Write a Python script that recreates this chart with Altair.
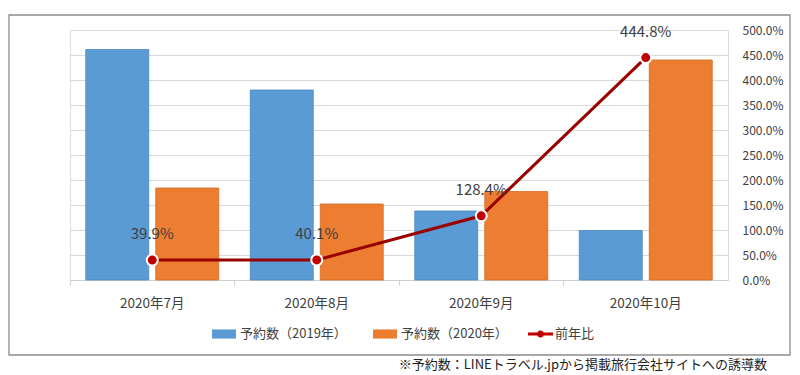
import altair as alt
import pandas as pd

months = ["2020年7月", "2020年8月", "2020年9月", "2020年10月"]
series_names = ["予約数（2019年）", "予約数（2020年）"]
bookings_2019 = [461, 380, 138, 99]
bookings_2020 = [184, 152, 177, 440]
yoy_ratio = [0.399, 0.401, 1.284, 4.448]
line_name = "前年比"
pct_ticks = [0, 0.5, 1.0, 1.5, 2.0, 2.5, 3.0, 3.5, 4.0, 4.5, 5.0]
footnote = ["※予約数：LINEトラベル.jpから掲載旅行会社サイトへの誘導数"]

FONT = "Noto Sans CJK JP"
TXT = "#404040"

bar_rows = []
for i, m in enumerate(months):
    bar_rows.append({"月": m, "系列": series_names[0], "値": bookings_2019[i]})
    bar_rows.append({"月": m, "系列": series_names[1], "値": bookings_2020[i]})
bars_df = pd.DataFrame(bar_rows)
line_df = pd.DataFrame({"月": months, "比": yoy_ratio, "線": [line_name] * len(months)})

x_enc = alt.X(
    "月:N",
    sort=months,
    scale=alt.Scale(paddingInner=0, paddingOuter=0),
    axis=alt.Axis(
        title=None, labelAngle=0, bandPosition=0,
        tickSize=5, tickColor="#d0d0d0", domainColor="#d0d0d0",
        labelPadding=11, labelFontSize=13.5, labelColor=TXT, labelFont=FONT, grid=False,
    ),
)

bars = alt.Chart(bars_df).mark_bar(strokeWidth=0.8).encode(
    x=x_enc,
    xOffset=alt.XOffset("系列:N", sort=series_names,
                        scale=alt.Scale(paddingInner=0.1, paddingOuter=0.225)),
    y=alt.Y("値:Q", scale=alt.Scale(domain=[0, 500]), axis=None),
    color=alt.Color(
        "系列:N", sort=series_names,
        scale=alt.Scale(domain=series_names, range=["#5B9BD5", "#ED7D31"]),
        legend=alt.Legend(
            title=None, orient="none", legendX=142, legendY=292, direction="horizontal",
            symbolType="M-1,-0.38H1V0.38H-1Z", symbolSize=576, symbolStrokeWidth=0,
            labelFontSize=13, labelColor=TXT, labelFont=FONT, columnPadding=26,
            labelOffset=4, padding=0,
        ),
    ),
    stroke=alt.Stroke("系列:N", sort=series_names,
                      scale=alt.Scale(domain=series_names, range=["#4a86c0", "#d46a24"]),
                      legend=None),
)

y_line = alt.Y(
    "比:Q",
    scale=alt.Scale(domain=[0, 5]),
    axis=alt.Axis(
        orient="right", values=pct_ticks, format=".1%", ticks=False, domain=False,
        labelPadding=14, gridColor="#d9d9d9", labelFontSize=12, labelColor=TXT,
        labelFont=FONT, title=None, grid=True, labelOverlap=False, tickCount=20,
    ),
)

line = alt.Chart(line_df).mark_line(color="#990000", strokeWidth=3).encode(
    x=alt.X("月:N", sort=months), y=y_line
)
points = alt.Chart(line_df).mark_point(filled=True, size=120, stroke="white",
                                       strokeWidth=2, opacity=1).encode(
    x=alt.X("月:N", sort=months),
    y=alt.Y("比:Q"),
    fill=alt.Fill(
        "線:N",
        scale=alt.Scale(domain=[line_name], range=["#C00000"]),
        legend=alt.Legend(
            title=None, orient="none", legendX=458, legendY=291.5,
            symbolType="M-1,-0.12H1V0.12H-1Z M0.28,0A0.28,0.28,0,1,1,-0.28,0A0.28,0.28,0,1,1,0.28,0Z",
            symbolSize=625, symbolStrokeWidth=0, labelFontSize=13, labelColor=TXT,
            labelFont=FONT, labelOffset=2, padding=0,
        ),
    ),
)
labels = alt.Chart(line_df).mark_text(dy=-26, fontSize=15, color=TXT, font=FONT).encode(
    x=alt.X("月:N", sort=months),
    y=alt.Y("比:Q"),
    text=alt.Text("比:Q", format=".1%"),
)

frame = alt.Chart(pd.DataFrame({"k": [0]})).mark_rect(
    fill=None, stroke="#8c8c8c", strokeWidth=1.3
).encode(x=alt.value(-61), x2=alt.value(720), y=alt.value(-15), y2=alt.value(325))

note = alt.Chart(pd.DataFrame({"t": footnote})).mark_text(
    align="right", baseline="middle", fontSize=13, color="#222222", font=FONT
).encode(x=alt.value(697), y=alt.value(335), text="t:N")

line_layer = alt.layer(line, points, labels)
chart = alt.layer(bars, line_layer, frame, note).resolve_scale(
    y="independent", color="independent"
).properties(
    width=658, height=250,
    autosize=alt.AutoSizeParams(type="none"),
    padding={"left": 70, "top": 30, "right": 72, "bottom": 95},
).configure_view(stroke=None).configure(background="white")

chart.save("out.html", embed_options={"renderer": "svg", "actions": False})
